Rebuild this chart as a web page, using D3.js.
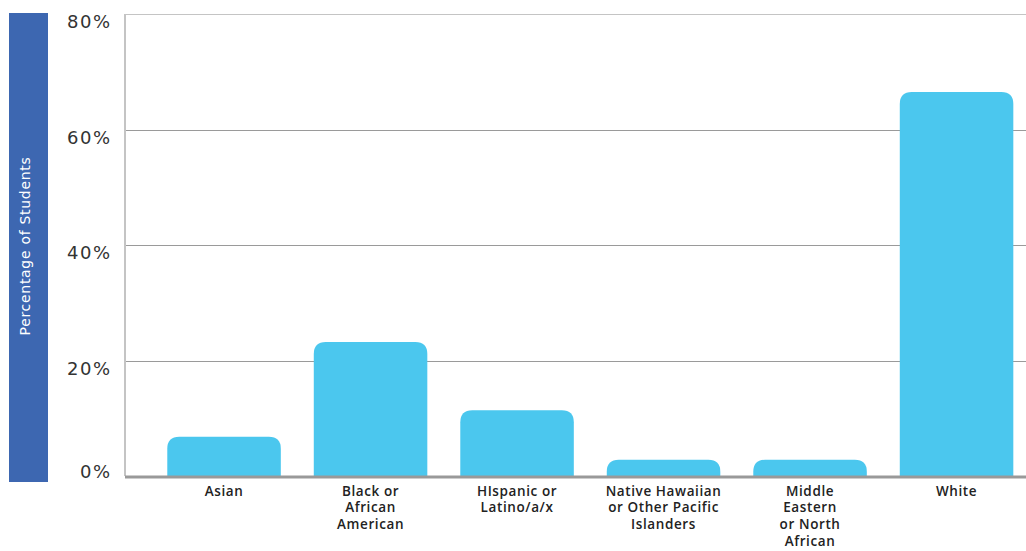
<!DOCTYPE html>
<html><head><meta charset="utf-8">
<script src="https://cdn.jsdelivr.net/npm/d3@7"></script>
<style>body{margin:0;background:#fff}svg{display:block}</style>
</head><body>
<svg id="chart" width="1026" height="551"></svg>
<script>
const categories = [["Asian"],["Black or","African","American"],["HIspanic or","Latino/a/x"],["Native Hawaiian","or Other Pacific","Islanders"],["Middle","Eastern","or North","African"],["White"]];
const values = [6.8, 23.2, 11.4, 2.8, 2.8, 66.5];
const yTicks = [0, 20, 40, 60, 80];
const yTitle = "Percentage of Students";

const svg = d3.select("#chart");
const plotLeft = 125, plotRight = 1026;
const y = d3.scaleLinear().domain([0, 80]).range([476, 14]);
const x = d3.scaleBand().domain(d3.range(categories.length)).range([150.8, 1029.8]).paddingInner(0.225).paddingOuter(0.1125);

// y title bar
svg.append("rect").attr("x", 9).attr("y", 13).attr("width", 39).attr("height", 469).attr("fill", "#3D67B1");
svg.append("text").attr("transform", "translate(29.5,246) rotate(-90)").attr("text-anchor", "middle")
  .attr("font-family", "DejaVu Sans").attr("font-size", 14).attr("letter-spacing", 0.7).attr("fill", "#fff").text(yTitle);

// gridlines
svg.append("g").selectAll("line").data(yTicks.filter(d => d > 0)).join("line")
  .attr("x1", plotLeft).attr("x2", plotRight).attr("y1", d => Math.round(y(d)) + 0.5).attr("y2", d => Math.round(y(d)) + 0.5)
  .attr("stroke", d => d === 80 ? "#c4c4c4" : "#9a9a9a").attr("stroke-width", 1);

// y axis line
svg.append("line").attr("x1", plotLeft).attr("x2", plotLeft).attr("y1", y(80)).attr("y2", y(0))
  .attr("stroke", "#c4c4c4").attr("stroke-width", 2);

// tick labels (placed just below each gridline)
svg.append("g").selectAll("text").data(yTicks).join("text")
  .attr("x", 111.5).attr("y", d => Math.min(y(d) + 14, y(0) + 2)).attr("text-anchor", "end")
  .attr("font-family", "DejaVu Sans").attr("font-size", 18).attr("letter-spacing", 1.5).attr("fill", "#333")
  .text(d => d + "%");

// bars with rounded top corners
const r = 12;
svg.append("g").selectAll("path").data(values).join("path")
  .attr("fill", "#4BC7EE")
  .attr("d", (d, i) => {
    const x0 = x(i), w = x.bandwidth(), y0 = y(d), yb = y(0);
    const rr = Math.min(r, (yb - y0));
    return `M${x0},${yb}V${y0 + rr}Q${x0},${y0} ${x0 + rr},${y0}H${x0 + w - rr}Q${x0 + w},${y0} ${x0 + w},${y0 + rr}V${yb}Z`;
  });

// baseline
svg.append("line").attr("x1", plotLeft).attr("x2", plotRight).attr("y1", y(0) + 1).attr("y2", y(0) + 1)
  .attr("stroke", "#999").attr("stroke-width", 3);

// x labels
const lab = svg.append("g").selectAll("text").data(categories).join("text")
  .attr("x", (d, i) => x(i) + x.bandwidth() / 2).attr("y", 495.5).attr("text-anchor", "middle")
  .attr("font-family", "Open Sans").attr("font-weight", 600).attr("font-size", 13.5).attr("letter-spacing", 0.6).attr("fill", "#222");
lab.selectAll("tspan").data(d => d).join("tspan")
  .attr("x", function() { return d3.select(this.parentNode).attr("x"); })
  .attr("dy", (d, i) => i === 0 ? 0 : 16.8).text(d => d);
</script>
</body></html>
